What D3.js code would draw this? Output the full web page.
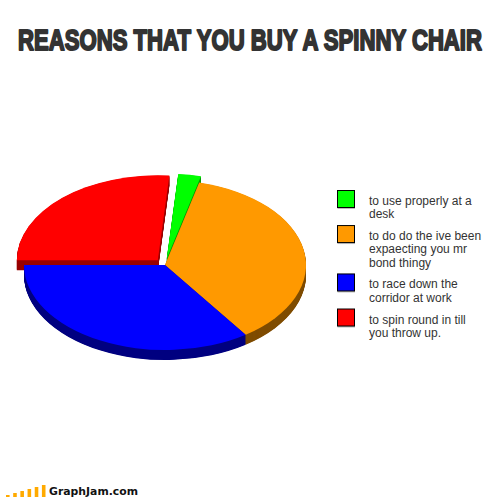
<!DOCTYPE html>
<html>
<head>
<meta charset="utf-8">
<script src="https://cdn.jsdelivr.net/npm/d3@7"></script>
<style>
html, body { margin: 0; padding: 0; background: #fff; }
svg { display: block; }
</style>
</head>
<body>
<div id="chart"></div>
<script>
// Legend order, also clockwise order round the pie starting from the green slice
var categories = ["use", "bond", "race", "spin"];
var values = [2.6, 36.4, 34.7, 26.3];
var labels = [
	["to use properly at a", "desk"],
	["to do do the ive been", "expaecting you mr", "bond thingy"],
	["to race down the", "corridor at work"],
	["to spin round in till", "you throw up."]
];
var colors = ["#00ff00", "#ff9900", "#0000ff", "#ff0000"];
var sideColors = ["#009900", "#7f4c00", "#000080", "#990000"];
var exploded = [0.075, 0, 0, 0.075];
var logoBars = [1, 2, 3, 4, 5, 6];

var svg = d3.select("#chart").append("svg").attr("width", 504).attr("height", 497);

// Title is squeezed to the reference width after measuring it (no Impact on the box)
var title = svg.append("text")
	.attr("font-family", "'Liberation Sans', sans-serif")
	.attr("font-weight", "bold").attr("font-size", 30)
	.attr("fill", "#333").attr("stroke", "#333").attr("stroke-width", 2)
	.attr("stroke-linejoin", "round")
	.text("REASONS THAT YOU BUY A SPINNY CHAIR");
var titleWidth = title.node().getComputedTextLength();
title.attr("transform", "translate(18,50) scale(" + (464 / titleWidth) + ",1)");

//////////////////////////////////// Pie ///////////////////////////////
var cx = 165, cy = 265, rx = 141, ry = 85, depth = 10;
var startAngle = 4.7 * Math.PI / 180;

var slices = d3.pie().sort(null).value(function(d) { return d; })
	.startAngle(startAngle).endAngle(startAngle + 2 * Math.PI)(values);
var arc = d3.arc().innerRadius(0).outerRadius(rx);

// Red goes first: its cut face has to stay under the blue slice
var drawOrder = [3, 0, 1, 2];
var pie = svg.append("g");

drawOrder.forEach(function(i) {
	var mid = (slices[i].startAngle + slices[i].endAngle) / 2;
	var dx = Math.sin(mid) * rx * exploded[i];
	var dy = -Math.cos(mid) * ry * exploded[i];
	// Stack of dark copies makes the side of the slice
	d3.range(depth, 0, -0.5).forEach(function(h) {
		pie.append("path")
			.attr("d", arc(slices[i]))
			.attr("fill", sideColors[i])
			.attr("transform", "translate(" + (cx + dx) + "," + (cy + dy + h) + ") scale(1," + (ry / rx) + ")");
	});
	pie.append("path")
		.attr("d", arc(slices[i]))
		.attr("fill", colors[i])
		.attr("transform", "translate(" + (cx + dx) + "," + (cy + dy) + ") scale(1," + (ry / rx) + ")");
});

//////////////////////////////////// Legend ///////////////////////////////
var lineHeight = 13.33, legendY = 190.5;
var legend = svg.append("g");

categories.forEach(function(c, i) {
	legend.append("rect")
		.attr("x", 337.5).attr("y", legendY + 1)
		.attr("width", 17.5).attr("height", 17.5)
		.attr("fill", "#bbb");
	legend.append("rect")
		.attr("x", 337.5).attr("y", legendY)
		.attr("width", 17).attr("height", 17)
		.attr("fill", colors[i]).attr("stroke", "#000").attr("stroke-width", 1);
	labels[i].forEach(function(line, j) {
		legend.append("text")
			.attr("x", 369).attr("y", legendY + 14.5 + j * lineHeight)
			.attr("font-family", "'Liberation Sans', Arial, sans-serif")
			.attr("font-size", 12).attr("fill", "#333")
			.text(line);
	});
	legendY += labels[i].length * lineHeight + 8.4;
});

//////////////////////////////////// Logo ///////////////////////////////
var logoX = d3.scaleBand().domain(logoBars).range([6, 45.5]).paddingInner(0.5);
var logoY = d3.scaleLinear().domain([0, 6]).range([497, 485]);

svg.selectAll("rect.logo").data(logoBars)
	.enter().append("rect")
	.attr("class", "logo")
	.attr("x", function(d) { return logoX(d); })
	.attr("y", function(d) { return logoY(d); })
	.attr("width", logoX.bandwidth())
	.attr("height", function(d) { return 497 - logoY(d); })
	.attr("fill", "#ffaa00");

svg.append("text")
	.attr("x", 49).attr("y", 495)
	.attr("textLength", 89).attr("lengthAdjust", "spacingAndGlyphs")
	.attr("font-family", "'DejaVu Sans', sans-serif")
	.attr("font-weight", "bold").attr("font-size", 11)
	.attr("fill", "#111")
	.text("GraphJam.com");
</script>
</body>
</html>
